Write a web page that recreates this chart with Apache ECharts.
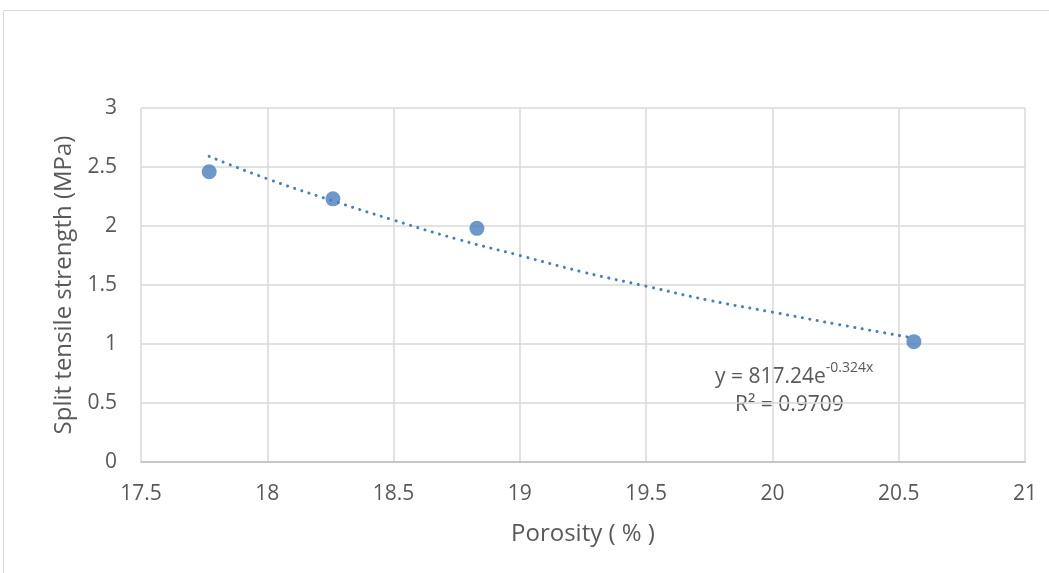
<!DOCTYPE html>
<html><head><meta charset="utf-8">
<script src="https://cdn.jsdelivr.net/npm/echarts@6/dist/echarts.min.js"></script>
<style>html,body{margin:0;padding:0;background:#fff}#c{width:1049px;height:573px}</style>
</head><body><div id="c"></div>
<script>
const porosity = [17.77, 18.26, 18.83, 20.56];
const strength = [2.46, 2.23, 1.98, 1.02];
// dotted trendline
const trendX = [17.77, 18.0, 18.25, 18.5, 18.75, 19.0, 19.25, 19.5, 19.75, 20.0, 20.25, 20.56];
const trendY = [2.59, 2.40, 2.22, 2.05, 1.89, 1.75, 1.61, 1.49, 1.37, 1.27, 1.17, 1.05];
const xTicks = [17.5, 18, 18.5, 19, 19.5, 20, 20.5, 21];
const yTicks = [0, 0.5, 1, 1.5, 2, 2.5, 3];
const eqText = ['y = 817.24e', '-0.324x', 'R² = 0.9709'];

const font = '"Open Sans", sans-serif';
const chart = echarts.init(document.getElementById('c'), null, {renderer: 'canvas'});
chart.setOption({
  animation: false,
  backgroundColor: '#fff',
  grid: {left: 141, right: 24, top: 108, bottom: 111, containLabel: false},
  xAxis: {
    type: 'value', min: xTicks[0], max: xTicks[xTicks.length - 1], interval: 0.5,
    name: 'Porosity ( % )', nameLocation: 'middle', nameGap: 60,
    nameTextStyle: {color: '#595959', fontSize: 24, fontFamily: font},
    axisLine: {show: true, lineStyle: {color: '#bfbfbf', width: 1.5}},
    axisTick: {show: false},
    axisLabel: {color: '#595959', fontSize: 21, fontFamily: font, margin: 22},
    splitLine: {show: true, lineStyle: {color: '#d9d9d9', width: 1.5}}
  },
  yAxis: {
    type: 'value', min: yTicks[0], max: yTicks[yTicks.length - 1], interval: 0.5,
    name: 'Split tensile strength (MPa)', nameLocation: 'middle', nameGap: 58,
    nameTextStyle: {color: '#595959', fontSize: 24, fontFamily: font},
    axisLine: {show: false}, axisTick: {show: false},
    axisLabel: {color: '#595959', fontSize: 21, fontFamily: font, margin: 24},
    splitLine: {show: true, lineStyle: {color: '#d9d9d9', width: 1.5}}
  },
  graphic: [
    {type: 'rect', shape: {x: 3.5, y: 10.5, width: 1060, height: 580},
     style: {fill: 'none', stroke: '#d9d9d9', lineWidth: 1}, silent: true},
    {type: 'text', left: 715, top: 361,
     style: {text: '{a|' + eqText[0] + '}{b|' + eqText[1] + '}',
       rich: {a: {fontSize: 21, fontFamily: font, fill: '#595959', verticalAlign: 'bottom'},
              b: {fontSize: 14, fontFamily: font, fill: '#595959', verticalAlign: 'top', padding: [0,0,13,0]}}}},
    {type: 'text', left: 735, top: 395,
     style: {text: eqText[2], fontSize: 21, fontFamily: font, fill: '#595959'}}
  ],
  series: [
    {type: 'line', data: trendX.map((x, i) => [x, trendY[i]]), smooth: true, symbol: 'none',
     lineStyle: {color: '#4a7ebb', width: 3, type: [0.1, 7.5], cap: 'round'}, z: 2},
    {type: 'scatter', data: porosity.map((x, i) => [x, strength[i]]), symbolSize: 15,
     itemStyle: {color: '#4a7ebb'}, z: 3}
  ]
});
</script></body></html>
